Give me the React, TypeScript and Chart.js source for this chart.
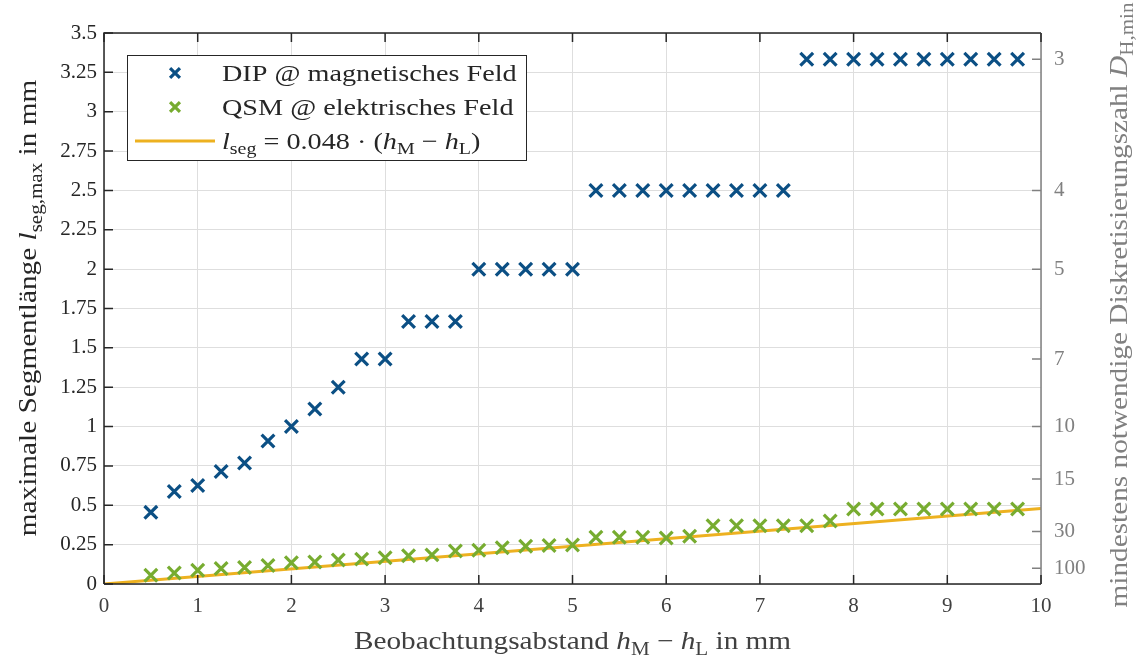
import React, { useEffect, useRef } from 'react';
import { Chart, registerables } from 'chart.js';

Chart.register(...registerables);

const xValues = [0.5, 0.75, 1, 1.25, 1.5, 1.75, 2, 2.25, 2.5, 2.75, 3, 3.25, 3.5, 3.75, 4, 4.25, 4.5, 4.75, 5, 5.25, 5.5, 5.75, 6, 6.25, 6.5, 6.75, 7, 7.25, 7.5, 7.75, 8, 8.25, 8.5, 8.75, 9, 9.25, 9.5, 9.75];
const dipValues = [0.455, 0.588, 0.625, 0.714, 0.769, 0.909, 1.0, 1.111, 1.25, 1.429, 1.429, 1.667, 1.667, 1.667, 2, 2, 2, 2, 2, 2.5, 2.5, 2.5, 2.5, 2.5, 2.5, 2.5, 2.5, 2.5, 3.333, 3.333, 3.333, 3.333, 3.333, 3.333, 3.333, 3.333, 3.333, 3.333];
const qsmValues = [0.055, 0.07, 0.088, 0.098, 0.105, 0.117, 0.135, 0.14, 0.152, 0.158, 0.167, 0.18, 0.185, 0.21, 0.215, 0.23, 0.24, 0.245, 0.248, 0.297, 0.297, 0.297, 0.292, 0.303, 0.37, 0.37, 0.37, 0.37, 0.37, 0.4, 0.476, 0.476, 0.476, 0.476, 0.476, 0.476, 0.476, 0.476];
const fitX = [0, 10];
const fitY = [0, 0.48];
const leftTickValues = [0, 0.25, 0.5, 0.75, 1, 1.25, 1.5, 1.75, 2, 2.25, 2.5, 2.75, 3, 3.25, 3.5];
const xTickValues = [0, 1, 2, 3, 4, 5, 6, 7, 8, 9, 10];
const rightTickValues = [3.333, 2.5, 2, 1.429, 1, 0.667, 0.333, 0.1];
const rightTickLabels = ['3', '4', '5', '7', '10', '15', '30', '100'];

const legendLabels = ['DIP @ magnetisches Feld', 'QSM @ elektrisches Feld'];

const FAMILY = '"Liberation Serif", "DejaVu Serif", serif';
const DARK = '#262626';
const GRAY = '#808080';
const BLUE = '#0b4f84';
const GREEN = '#77ac30';
const ORANGE = '#edb120';

type Seg = { t: string; it?: boolean; sub?: boolean };

const leftTitle: Seg[] = [{ t: 'maximale Segmentlänge ' }, { t: 'l', it: true }, { t: 'seg,max', sub: true }, { t: ' in mm' }];
const rightTitle: Seg[] = [{ t: 'mindestens notwendige Diskretisierungszahl ' }, { t: 'D', it: true }, { t: 'H,min', sub: true }];
const bottomTitle: Seg[] = [{ t: 'Beobachtungsabstand ' }, { t: 'h', it: true }, { t: 'M', sub: true }, { t: ' − ' }, { t: 'h', it: true }, { t: 'L', sub: true }, { t: ' in mm' }];
const fitLabel: Seg[] = [{ t: 'l', it: true }, { t: 'seg', sub: true }, { t: ' = 0.048 · (' }, { t: 'h', it: true }, { t: 'M', sub: true }, { t: ' − ' }, { t: 'h', it: true }, { t: 'L', sub: true }, { t: ')' }];

function drawRich(ctx: CanvasRenderingContext2D, segs: Seg[], x: number, y: number, size: number, align: 'left' | 'center', color: string, sx: number) {
  const fontFor = (s: Seg) => `${s.it ? 'italic ' : ''}${s.sub ? Math.round(size * 0.7) : size}px ${FAMILY}`;
  const widths = segs.map((s) => { ctx.font = fontFor(s); return ctx.measureText(s.t).width; });
  const total = widths.reduce((a, b) => a + b, 0);
  ctx.save();
  ctx.translate(x, y);
  ctx.scale(sx, 1);
  let cx = align === 'center' ? -total / 2 : 0;
  ctx.fillStyle = color;
  ctx.textBaseline = 'alphabetic';
  ctx.textAlign = 'left';
  segs.forEach((s, i) => {
    ctx.font = fontFor(s);
    ctx.fillText(s.t, cx, s.sub ? size * 0.22 : 0);
    cx += widths[i];
  });
  ctx.restore();
}

function drawCross(ctx: CanvasRenderingContext2D, x: number, y: number, r: number, color: string) {
  const d = r * Math.SQRT1_2;
  ctx.save();
  ctx.strokeStyle = color;
  ctx.lineWidth = 3.2;
  ctx.beginPath();
  ctx.moveTo(x - d, y - d); ctx.lineTo(x + d, y + d);
  ctx.moveTo(x - d, y + d); ctx.lineTo(x + d, y - d);
  ctx.stroke();
  ctx.restore();
}

const decorPlugin = {
  id: 'decor',
  afterDraw(chart: any) {
    const ctx: CanvasRenderingContext2D = chart.ctx;
    const { left, right, top, bottom } = chart.chartArea;
    const xs = chart.scales.x;
    const ys = chart.scales.y;
    const TL = 9;
    ctx.save();
    ctx.lineCap = 'butt';
    // frame
    ctx.lineWidth = 1.5;
    ctx.strokeStyle = DARK;
    ctx.beginPath();
    ctx.moveTo(left, bottom); ctx.lineTo(left, top); ctx.lineTo(right, top);
    ctx.moveTo(left, bottom); ctx.lineTo(right, bottom);
    ctx.stroke();
    ctx.strokeStyle = GRAY;
    ctx.beginPath();
    ctx.moveTo(right, top); ctx.lineTo(right, bottom);
    ctx.stroke();
    // ticks
    ctx.strokeStyle = DARK;
    ctx.beginPath();
    leftTickValues.forEach((v) => { const p = ys.getPixelForValue(v); ctx.moveTo(left, p); ctx.lineTo(left + TL, p); });
    xTickValues.forEach((v) => { const p = xs.getPixelForValue(v); ctx.moveTo(p, bottom); ctx.lineTo(p, bottom - TL); ctx.moveTo(p, top); ctx.lineTo(p, top + TL); });
    ctx.stroke();
    ctx.strokeStyle = GRAY;
    ctx.beginPath();
    const y2 = chart.scales.y2;
    rightTickValues.forEach((v) => { const p = y2.getPixelForValue(v); ctx.moveTo(right, p); ctx.lineTo(right - TL, p); });
    ctx.stroke();

    // legend
    const lx = left + 23, ly = top + 22, lw = 399, lh = 105;
    ctx.fillStyle = '#ffffff';
    ctx.fillRect(lx, ly, lw, lh);
    ctx.strokeStyle = DARK;
    ctx.lineWidth = 1;
    ctx.strokeRect(lx + 0.5, ly + 0.5, lw, lh);
    const rows = [ly + 18, ly + 52, ly + 86];
    const mx = lx + 48;
    drawCross(ctx, mx, rows[0], 7, BLUE);
    drawCross(ctx, mx, rows[1], 7, GREEN);
    ctx.strokeStyle = ORANGE;
    ctx.lineWidth = 3;
    ctx.beginPath(); ctx.moveTo(lx + 8, rows[2]); ctx.lineTo(lx + 88, rows[2]); ctx.stroke();
    const tx = lx + 95;
    const fs = 24;
    const lsx = 1.175;
    drawRich(ctx, [{ t: legendLabels[0] }], tx, rows[0] + 8, fs, 'left', DARK, lsx);
    drawRich(ctx, [{ t: legendLabels[1] }], tx, rows[1] + 8, fs, 'left', DARK, lsx);
    drawRich(ctx, fitLabel, tx, rows[2] + 8, fs, 'left', DARK, lsx);

    // axis titles
    const tfs = 25;
    const tsx = 1.17;
    ctx.save();
    ctx.translate(36, 308);
    ctx.rotate(-Math.PI / 2);
    drawRich(ctx, leftTitle, 0, 0, tfs, 'center', DARK, tsx);
    ctx.restore();
    ctx.save();
    ctx.translate(1127, 305);
    ctx.rotate(-Math.PI / 2);
    drawRich(ctx, rightTitle, 0, 0, tfs, 'center', GRAY, tsx);
    ctx.restore();
    drawRich(ctx, bottomTitle, (left + right) / 2, 649, tfs, 'center', '#404040', tsx);
    ctx.restore();
  },
};

export default function App() {
  const ref = useRef<HTMLCanvasElement>(null);
  useEffect(() => {
    if (!ref.current) return;
    const chart = new Chart(ref.current, {
      type: 'scatter',
      data: {
        datasets: [
          {
            label: legendLabels[0],
            data: xValues.map((x, i) => ({ x, y: dipValues[i] })),
            pointStyle: 'crossRot',
            pointRadius: 9,
            pointBorderWidth: 3.2,
            borderColor: BLUE,
            backgroundColor: BLUE,
            yAxisID: 'y',
          },
          {
            label: legendLabels[1],
            data: xValues.map((x, i) => ({ x, y: qsmValues[i] })),
            pointStyle: 'crossRot',
            pointRadius: 9,
            pointBorderWidth: 3.2,
            borderColor: GREEN,
            backgroundColor: GREEN,
            yAxisID: 'y',
          },
          {
            type: 'line',
            label: 'fit',
            data: fitX.map((x, i) => ({ x, y: fitY[i] })),
            borderColor: ORANGE,
            borderWidth: 3,
            pointRadius: 0,
            showLine: true,
            yAxisID: 'y',
          } as any,
        ],
      },
      options: {
        animation: false,
        responsive: false,
        layout: { padding: { top: 33, left: 0, right: 0, bottom: 0 } },
        plugins: { legend: { display: false }, tooltip: { enabled: false } },
        scales: {
          x: {
            type: 'linear',
            min: 0,
            max: 10,
            afterBuildTicks: (s: any) => { s.ticks = xTickValues.map((v) => ({ value: v })); },
            afterFit: (s: any) => { s.height = 71; },
            grid: { color: '#dedede', lineWidth: 1, drawTicks: false },
            border: { display: false },
            ticks: { padding: 10, color: '#404040', font: { family: FAMILY, size: 21 }, maxRotation: 0 },
          },
          y: {
            type: 'linear',
            position: 'left',
            min: 0,
            max: 3.5,
            afterBuildTicks: (s: any) => { s.ticks = leftTickValues.map((v) => ({ value: v })); },
            afterFit: (s: any) => { s.width = 104; },
            grid: { color: '#dedede', lineWidth: 1, drawTicks: false },
            border: { display: false },
            ticks: { padding: 7, color: DARK, font: { family: FAMILY, size: 21 }, callback: (v: any) => String(v) },
          },
          y2: {
            type: 'linear',
            position: 'right',
            min: 0,
            max: 3.5,
            afterBuildTicks: (s: any) => { s.ticks = rightTickValues.map((v) => ({ value: v })); },
            afterFit: (s: any) => { s.width = 95; },
            grid: { display: false, drawTicks: false },
            border: { display: false },
            ticks: {
              padding: 13,
              color: GRAY,
              font: { family: FAMILY, size: 21 },
              callback: (v: any) => { const i = rightTickValues.indexOf(Number(v)); return i >= 0 ? rightTickLabels[i] : ''; },
            },
          },
        },
      },
      plugins: [decorPlugin],
    });
    return () => chart.destroy();
  }, []);
  return (
    <div style={{ position: 'fixed', left: 0, top: 0, width: 1136, height: 655, background: '#fff' }}>
      <canvas ref={ref} width={1136} height={655} style={{ display: 'block', width: 1136, height: 655 }} />
    </div>
  );
}
